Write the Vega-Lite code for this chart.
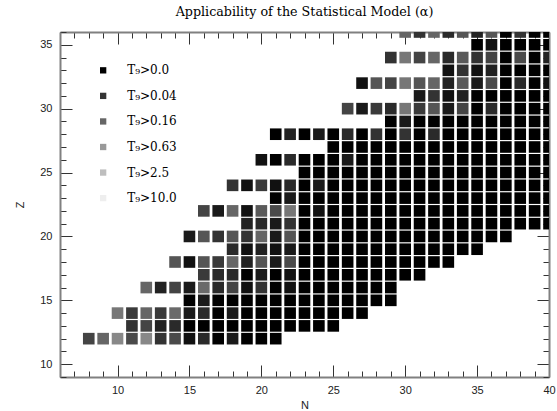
{
"$schema": "https://vega.github.io/schema/vega-lite/v6.json",
"width": 489,
"height": 345,
"autosize": "none",
"padding": {"left": 60, "top": 32, "right": 8, "bottom": 34},
"background": "white",
"title": {"text": "Applicability of the Statistical Model (α)", "font": "DejaVu Serif", "fontSize": 12.7, "fontWeight": "normal", "color": "#000000", "offset": 7, "anchor": "middle"},
"config": {"view": {"stroke": null}},
"datasets": {
"cells": [
{"N":8,"Z":12,"g":68},{"N":9,"Z":12,"g":102},{"N":10,"Z":12,"g":136},{"N":11,"Z":12,"g":74},{"N":12,"Z":12,"g":136},{"N":13,"Z":12,"g":51},{"N":14,"Z":12,"g":74},{"N":15,"Z":12,"g":17},{"N":16,"Z":12,"g":42},{"N":17,"Z":12,"g":0},{"N":18,"Z":12,"g":26},{"N":19,"Z":12,"g":0},{"N":20,"Z":12,"g":0},{"N":21,"Z":12,"g":0},
{"N":11,"Z":13,"g":51},{"N":12,"Z":13,"g":68},{"N":13,"Z":13,"g":34},{"N":14,"Z":13,"g":42},{"N":15,"Z":13,"g":0},{"N":16,"Z":13,"g":0},{"N":17,"Z":13,"g":0},{"N":18,"Z":13,"g":0},{"N":19,"Z":13,"g":0},{"N":20,"Z":13,"g":0},{"N":21,"Z":13,"g":0},{"N":22,"Z":13,"g":0},{"N":23,"Z":13,"g":0},{"N":24,"Z":13,"g":0},{"N":25,"Z":13,"g":0},
{"N":10,"Z":14,"g":119},{"N":11,"Z":14,"g":58},{"N":12,"Z":14,"g":102},{"N":13,"Z":14,"g":58},{"N":14,"Z":14,"g":106},{"N":15,"Z":14,"g":26},{"N":16,"Z":14,"g":42},{"N":17,"Z":14,"g":0},{"N":18,"Z":14,"g":26},{"N":19,"Z":14,"g":0},{"N":20,"Z":14,"g":0},{"N":21,"Z":14,"g":0},{"N":22,"Z":14,"g":0},{"N":23,"Z":14,"g":0},{"N":24,"Z":14,"g":0},{"N":25,"Z":14,"g":0},{"N":26,"Z":14,"g":0},{"N":27,"Z":14,"g":0},
{"N":15,"Z":15,"g":0},{"N":16,"Z":15,"g":26},{"N":17,"Z":15,"g":0},{"N":18,"Z":15,"g":0},{"N":19,"Z":15,"g":0},{"N":20,"Z":15,"g":0},{"N":21,"Z":15,"g":0},{"N":22,"Z":15,"g":0},{"N":23,"Z":15,"g":0},{"N":24,"Z":15,"g":0},{"N":25,"Z":15,"g":0},{"N":26,"Z":15,"g":0},{"N":27,"Z":15,"g":0},{"N":28,"Z":15,"g":0},{"N":29,"Z":15,"g":0},
{"N":12,"Z":16,"g":102},{"N":13,"Z":16,"g":34},{"N":14,"Z":16,"g":68},{"N":15,"Z":16,"g":26},{"N":16,"Z":16,"g":106},{"N":17,"Z":16,"g":42},{"N":18,"Z":16,"g":68},{"N":19,"Z":16,"g":17},{"N":20,"Z":16,"g":51},{"N":21,"Z":16,"g":0},{"N":22,"Z":16,"g":17},{"N":23,"Z":16,"g":0},{"N":24,"Z":16,"g":0},{"N":25,"Z":16,"g":0},{"N":26,"Z":16,"g":0},{"N":27,"Z":16,"g":0},{"N":28,"Z":16,"g":0},{"N":29,"Z":16,"g":0},
{"N":16,"Z":17,"g":58},{"N":17,"Z":17,"g":42},{"N":18,"Z":17,"g":42},{"N":19,"Z":17,"g":0},{"N":20,"Z":17,"g":26},{"N":21,"Z":17,"g":0},{"N":22,"Z":17,"g":17},{"N":23,"Z":17,"g":0},{"N":24,"Z":17,"g":0},{"N":25,"Z":17,"g":0},{"N":26,"Z":17,"g":0},{"N":27,"Z":17,"g":0},{"N":28,"Z":17,"g":0},{"N":29,"Z":17,"g":0},{"N":30,"Z":17,"g":0},{"N":31,"Z":17,"g":0},
{"N":14,"Z":18,"g":85},{"N":15,"Z":18,"g":17},{"N":16,"Z":18,"g":85},{"N":17,"Z":18,"g":58},{"N":18,"Z":18,"g":102},{"N":19,"Z":18,"g":34},{"N":20,"Z":18,"g":85},{"N":21,"Z":18,"g":26},{"N":22,"Z":18,"g":74},{"N":23,"Z":18,"g":0},{"N":24,"Z":18,"g":0},{"N":25,"Z":18,"g":0},{"N":26,"Z":18,"g":0},{"N":27,"Z":18,"g":0},{"N":28,"Z":18,"g":0},{"N":29,"Z":18,"g":0},{"N":30,"Z":18,"g":0},{"N":31,"Z":18,"g":0},{"N":32,"Z":18,"g":0},{"N":33,"Z":18,"g":0},
{"N":18,"Z":19,"g":42},{"N":19,"Z":19,"g":17},{"N":20,"Z":19,"g":34},{"N":21,"Z":19,"g":17},{"N":22,"Z":19,"g":26},{"N":23,"Z":19,"g":0},{"N":24,"Z":19,"g":0},{"N":25,"Z":19,"g":0},{"N":26,"Z":19,"g":0},{"N":27,"Z":19,"g":0},{"N":28,"Z":19,"g":0},{"N":29,"Z":19,"g":0},{"N":30,"Z":19,"g":0},{"N":31,"Z":19,"g":0},{"N":32,"Z":19,"g":0},{"N":33,"Z":19,"g":0},{"N":34,"Z":19,"g":0},{"N":35,"Z":19,"g":0},
{"N":15,"Z":20,"g":26},{"N":16,"Z":20,"g":85},{"N":17,"Z":20,"g":51},{"N":18,"Z":20,"g":85},{"N":19,"Z":20,"g":51},{"N":20,"Z":20,"g":102},{"N":21,"Z":20,"g":26},{"N":22,"Z":20,"g":85},{"N":23,"Z":20,"g":0},{"N":24,"Z":20,"g":0},{"N":25,"Z":20,"g":0},{"N":26,"Z":20,"g":0},{"N":27,"Z":20,"g":0},{"N":28,"Z":20,"g":0},{"N":29,"Z":20,"g":0},{"N":30,"Z":20,"g":0},{"N":31,"Z":20,"g":0},{"N":32,"Z":20,"g":0},{"N":33,"Z":20,"g":0},{"N":34,"Z":20,"g":0},{"N":35,"Z":20,"g":0},{"N":36,"Z":20,"g":0},{"N":37,"Z":20,"g":0},
{"N":19,"Z":21,"g":34},{"N":20,"Z":21,"g":42},{"N":21,"Z":21,"g":26},{"N":22,"Z":21,"g":51},{"N":23,"Z":21,"g":0},{"N":24,"Z":21,"g":0},{"N":25,"Z":21,"g":0},{"N":26,"Z":21,"g":0},{"N":27,"Z":21,"g":0},{"N":28,"Z":21,"g":0},{"N":29,"Z":21,"g":0},{"N":30,"Z":21,"g":0},{"N":31,"Z":21,"g":0},{"N":32,"Z":21,"g":0},{"N":33,"Z":21,"g":0},{"N":34,"Z":21,"g":0},{"N":35,"Z":21,"g":0},{"N":36,"Z":21,"g":0},{"N":37,"Z":21,"g":0},{"N":38,"Z":21,"g":0},{"N":39,"Z":21,"g":0},{"N":40,"Z":21,"g":0},
{"N":16,"Z":22,"g":68},{"N":17,"Z":22,"g":26},{"N":18,"Z":22,"g":102},{"N":19,"Z":22,"g":17},{"N":20,"Z":22,"g":90},{"N":21,"Z":22,"g":74},{"N":22,"Z":22,"g":119},{"N":23,"Z":22,"g":0},{"N":24,"Z":22,"g":17},{"N":25,"Z":22,"g":0},{"N":26,"Z":22,"g":0},{"N":27,"Z":22,"g":0},{"N":28,"Z":22,"g":0},{"N":29,"Z":22,"g":0},{"N":30,"Z":22,"g":0},{"N":31,"Z":22,"g":0},{"N":32,"Z":22,"g":0},{"N":33,"Z":22,"g":0},{"N":34,"Z":22,"g":0},{"N":35,"Z":22,"g":0},{"N":36,"Z":22,"g":0},{"N":37,"Z":22,"g":0},{"N":38,"Z":22,"g":0},{"N":39,"Z":22,"g":0},{"N":40,"Z":22,"g":0},
{"N":21,"Z":23,"g":0},{"N":22,"Z":23,"g":26},{"N":23,"Z":23,"g":0},{"N":24,"Z":23,"g":0},{"N":25,"Z":23,"g":0},{"N":26,"Z":23,"g":0},{"N":27,"Z":23,"g":0},{"N":28,"Z":23,"g":0},{"N":29,"Z":23,"g":0},{"N":30,"Z":23,"g":0},{"N":31,"Z":23,"g":0},{"N":32,"Z":23,"g":0},{"N":33,"Z":23,"g":0},{"N":34,"Z":23,"g":0},{"N":35,"Z":23,"g":0},{"N":36,"Z":23,"g":0},{"N":37,"Z":23,"g":0},{"N":38,"Z":23,"g":0},{"N":39,"Z":23,"g":0},{"N":40,"Z":23,"g":0},
{"N":18,"Z":24,"g":51},{"N":19,"Z":24,"g":17},{"N":20,"Z":24,"g":58},{"N":21,"Z":24,"g":17},{"N":22,"Z":24,"g":42},{"N":23,"Z":24,"g":0},{"N":24,"Z":24,"g":26},{"N":25,"Z":24,"g":0},{"N":26,"Z":24,"g":0},{"N":27,"Z":24,"g":0},{"N":28,"Z":24,"g":0},{"N":29,"Z":24,"g":0},{"N":30,"Z":24,"g":0},{"N":31,"Z":24,"g":0},{"N":32,"Z":24,"g":0},{"N":33,"Z":24,"g":0},{"N":34,"Z":24,"g":0},{"N":35,"Z":24,"g":0},{"N":36,"Z":24,"g":0},{"N":37,"Z":24,"g":0},{"N":38,"Z":24,"g":0},{"N":39,"Z":24,"g":0},{"N":40,"Z":24,"g":0},
{"N":23,"Z":25,"g":0},{"N":24,"Z":25,"g":0},{"N":25,"Z":25,"g":0},{"N":26,"Z":25,"g":0},{"N":27,"Z":25,"g":0},{"N":28,"Z":25,"g":0},{"N":29,"Z":25,"g":0},{"N":30,"Z":25,"g":0},{"N":31,"Z":25,"g":0},{"N":32,"Z":25,"g":0},{"N":33,"Z":25,"g":0},{"N":34,"Z":25,"g":0},{"N":35,"Z":25,"g":0},{"N":36,"Z":25,"g":0},{"N":37,"Z":25,"g":0},{"N":38,"Z":25,"g":0},{"N":39,"Z":25,"g":0},{"N":40,"Z":25,"g":0},
{"N":20,"Z":26,"g":17},{"N":21,"Z":26,"g":0},{"N":22,"Z":26,"g":42},{"N":23,"Z":26,"g":0},{"N":24,"Z":26,"g":0},{"N":25,"Z":26,"g":0},{"N":26,"Z":26,"g":26},{"N":27,"Z":26,"g":0},{"N":28,"Z":26,"g":0},{"N":29,"Z":26,"g":0},{"N":30,"Z":26,"g":0},{"N":31,"Z":26,"g":0},{"N":32,"Z":26,"g":0},{"N":33,"Z":26,"g":0},{"N":34,"Z":26,"g":0},{"N":35,"Z":26,"g":0},{"N":36,"Z":26,"g":0},{"N":37,"Z":26,"g":0},{"N":38,"Z":26,"g":0},{"N":39,"Z":26,"g":0},{"N":40,"Z":26,"g":0},
{"N":25,"Z":27,"g":0},{"N":26,"Z":27,"g":0},{"N":27,"Z":27,"g":0},{"N":28,"Z":27,"g":0},{"N":29,"Z":27,"g":0},{"N":30,"Z":27,"g":0},{"N":31,"Z":27,"g":0},{"N":32,"Z":27,"g":0},{"N":33,"Z":27,"g":0},{"N":34,"Z":27,"g":0},{"N":35,"Z":27,"g":0},{"N":36,"Z":27,"g":0},{"N":37,"Z":27,"g":0},{"N":38,"Z":27,"g":0},{"N":39,"Z":27,"g":0},{"N":40,"Z":27,"g":0},
{"N":21,"Z":28,"g":0},{"N":22,"Z":28,"g":34},{"N":23,"Z":28,"g":0},{"N":24,"Z":28,"g":26},{"N":25,"Z":28,"g":0},{"N":26,"Z":28,"g":42},{"N":27,"Z":28,"g":0},{"N":28,"Z":28,"g":51},{"N":29,"Z":28,"g":0},{"N":30,"Z":28,"g":51},{"N":31,"Z":28,"g":0},{"N":32,"Z":28,"g":42},{"N":33,"Z":28,"g":0},{"N":34,"Z":28,"g":0},{"N":35,"Z":28,"g":0},{"N":36,"Z":28,"g":0},{"N":37,"Z":28,"g":0},{"N":38,"Z":28,"g":0},{"N":39,"Z":28,"g":0},{"N":40,"Z":28,"g":0},
{"N":29,"Z":29,"g":0},{"N":30,"Z":29,"g":26},{"N":31,"Z":29,"g":0},{"N":32,"Z":29,"g":0},{"N":33,"Z":29,"g":0},{"N":34,"Z":29,"g":0},{"N":35,"Z":29,"g":0},{"N":36,"Z":29,"g":0},{"N":37,"Z":29,"g":0},{"N":38,"Z":29,"g":0},{"N":39,"Z":29,"g":0},{"N":40,"Z":29,"g":0},
{"N":26,"Z":30,"g":68},{"N":27,"Z":30,"g":26},{"N":28,"Z":30,"g":58},{"N":29,"Z":30,"g":42},{"N":30,"Z":30,"g":119},{"N":31,"Z":30,"g":58},{"N":32,"Z":30,"g":85},{"N":33,"Z":30,"g":26},{"N":34,"Z":30,"g":68},{"N":35,"Z":30,"g":0},{"N":36,"Z":30,"g":42},{"N":37,"Z":30,"g":0},{"N":38,"Z":30,"g":0},{"N":39,"Z":30,"g":0},{"N":40,"Z":30,"g":0},
{"N":31,"Z":31,"g":26},{"N":32,"Z":31,"g":51},{"N":33,"Z":31,"g":17},{"N":34,"Z":31,"g":34},{"N":35,"Z":31,"g":0},{"N":36,"Z":31,"g":0},{"N":37,"Z":31,"g":0},{"N":38,"Z":31,"g":0},{"N":39,"Z":31,"g":0},{"N":40,"Z":31,"g":0},
{"N":27,"Z":32,"g":17},{"N":28,"Z":32,"g":85},{"N":29,"Z":32,"g":68},{"N":30,"Z":32,"g":119},{"N":31,"Z":32,"g":85},{"N":32,"Z":32,"g":102},{"N":33,"Z":32,"g":34},{"N":34,"Z":32,"g":90},{"N":35,"Z":32,"g":26},{"N":36,"Z":32,"g":74},{"N":37,"Z":32,"g":0},{"N":38,"Z":32,"g":42},{"N":39,"Z":32,"g":0},{"N":40,"Z":32,"g":17},
{"N":33,"Z":33,"g":17},{"N":34,"Z":33,"g":51},{"N":35,"Z":33,"g":17},{"N":36,"Z":33,"g":34},{"N":37,"Z":33,"g":0},{"N":38,"Z":33,"g":0},{"N":39,"Z":33,"g":0},{"N":40,"Z":33,"g":0},
{"N":29,"Z":34,"g":51},{"N":30,"Z":34,"g":119},{"N":31,"Z":34,"g":68},{"N":32,"Z":34,"g":102},{"N":33,"Z":34,"g":42},{"N":34,"Z":34,"g":90},{"N":35,"Z":34,"g":51},{"N":36,"Z":34,"g":68},{"N":37,"Z":34,"g":0},{"N":38,"Z":34,"g":74},{"N":39,"Z":34,"g":0},{"N":40,"Z":34,"g":34},
{"N":35,"Z":35,"g":0},{"N":36,"Z":35,"g":17},{"N":37,"Z":35,"g":0},{"N":38,"Z":35,"g":0},{"N":39,"Z":35,"g":0},{"N":40,"Z":35,"g":0},
{"N":30,"Z":36,"g":102},{"N":31,"Z":36,"g":51},{"N":32,"Z":36,"g":102},{"N":33,"Z":36,"g":42},{"N":34,"Z":36,"g":85},{"N":35,"Z":36,"g":34},{"N":36,"Z":36,"g":85},{"N":37,"Z":36,"g":0},{"N":38,"Z":36,"g":51},{"N":39,"Z":36,"g":0},{"N":40,"Z":36,"g":0}
],
"key": [
{"N":9,"Z":33,"g":0,"label":"T₉>0.0"},
{"N":9,"Z":31,"g":51,"label":"T₉>0.04"},
{"N":9,"Z":29,"g":102,"label":"T₉>0.16"},
{"N":9,"Z":27,"g":153,"label":"T₉>0.63"},
{"N":9,"Z":25,"g":190,"label":"T₉>2.5"},
{"N":9,"Z":23,"g":238,"label":"T₉>10.0"}
]
},
"layer": [
{
"data": {"name": "cells"},
"mark": {"type": "point", "shape": "square", "filled": true, "size": 135, "opacity": 1, "strokeWidth": 0, "clip": true},
"encoding": {
"x": {"field": "N", "type": "quantitative", "scale": {"domain": [6, 40], "nice": false, "zero": false},
 "axis": {"orient": "bottom", "title": "N", "values": [6,7,8,9,10,11,12,13,14,15,16,17,18,19,20,21,22,23,24,25,26,27,28,29,30,31,32,33,34,35,36,37,38,39,40],
  "labelExpr": "datum.value % 5 === 0 ? datum.label : ''", "labelOverlap": false, "labelFlush": false,
  "tickSize": {"condition": {"test": "datum.value % 5 === 0", "value": -12}, "value": -6},
  "tickColor": "#333333", "tickWidth": 1, "domainColor": "#808080", "domainWidth": 2, "grid": false,
  "labelFont": "Liberation Sans", "labelFontSize": 11, "labelColor": "#222222", "labelPadding": 19,
  "titleFont": "Liberation Sans", "titleFontSize": 11, "titleFontWeight": "normal", "titleColor": "#222222", "titleY": 22, "titleBaseline": "top"}},
"y": {"field": "Z", "type": "quantitative", "scale": {"domain": [9, 36], "nice": false, "zero": false},
 "axis": {"orient": "left", "title": "Z", "values": [9,10,11,12,13,14,15,16,17,18,19,20,21,22,23,24,25,26,27,28,29,30,31,32,33,34,35,36],
  "labelExpr": "datum.value % 5 === 0 ? datum.label : ''", "labelOverlap": false, "labelFlush": false,
  "tickSize": {"condition": {"test": "datum.value % 5 === 0", "value": -12}, "value": -6},
  "tickColor": "#333333", "tickWidth": 1, "domainColor": "#808080", "domainWidth": 2, "grid": false,
  "labelFont": "Liberation Sans", "labelFontSize": 11, "labelColor": "#222222", "labelPadding": 20,
  "titleFont": "Liberation Sans", "titleFontSize": 11, "titleFontWeight": "normal", "titleColor": "#222222", "titlePadding": 14}},
"color": {"field": "g", "type": "quantitative", "scale": {"domain": [0, 255], "range": ["#000000", "#ffffff"], "interpolate": "rgb"}, "legend": null}
}
},
{
"data": {"name": "key"},
"mark": {"type": "point", "shape": "square", "filled": true, "size": 40, "opacity": 1, "strokeWidth": 0},
"encoding": {
"x": {"field": "N", "type": "quantitative",
 "axis": {"orient": "top", "title": null, "values": [6,7,8,9,10,11,12,13,14,15,16,17,18,19,20,21,22,23,24,25,26,27,28,29,30,31,32,33,34,35,36,37,38,39,40],
  "labels": false, "tickSize": {"condition": {"test": "datum.value % 5 === 0", "value": -12}, "value": -6},
  "tickColor": "#333333", "tickWidth": 1, "domainColor": "#808080", "domainWidth": 2, "grid": false}},
"y": {"field": "Z", "type": "quantitative",
 "axis": {"orient": "right", "title": null, "values": [9,10,11,12,13,14,15,16,17,18,19,20,21,22,23,24,25,26,27,28,29,30,31,32,33,34,35,36],
  "labels": false, "tickSize": {"condition": {"test": "datum.value % 5 === 0", "value": -12}, "value": -6},
  "tickColor": "#333333", "tickWidth": 1, "domainColor": "#808080", "domainWidth": 2, "grid": false}},
"color": {"field": "g", "type": "quantitative", "legend": null}
}
},
{
"data": {"name": "key"},
"mark": {"type": "text", "align": "left", "baseline": "middle", "dx": 24, "font": "DejaVu Serif", "fontSize": 12, "color": "#000000"},
"encoding": {
"x": {"field": "N", "type": "quantitative", "axis": null},
"y": {"field": "Z", "type": "quantitative", "axis": null},
"text": {"field": "label"}
}
}
]
}
